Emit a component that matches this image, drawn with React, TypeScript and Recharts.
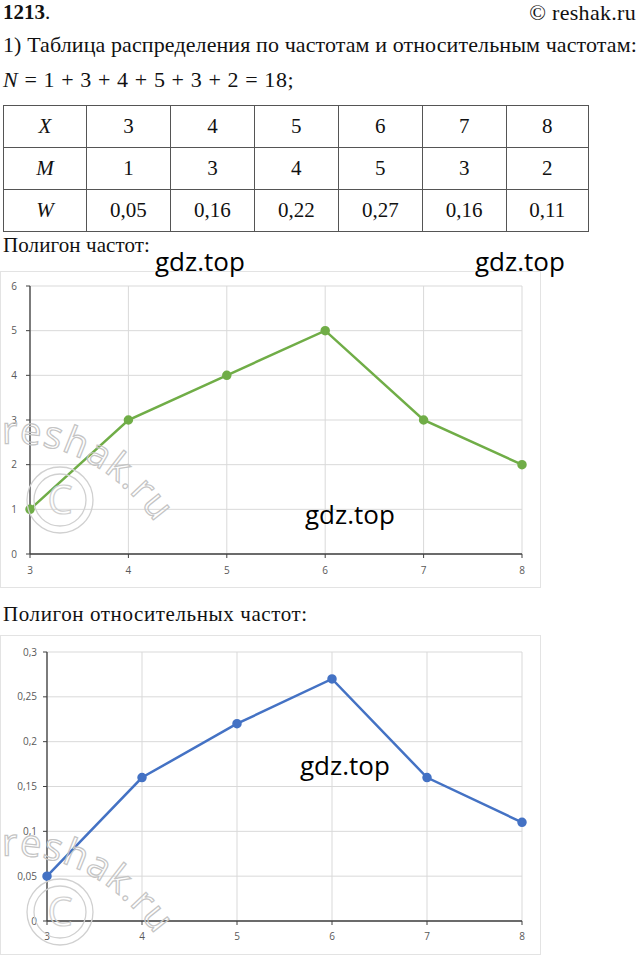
import React from 'react';
import { LineChart, Line, XAxis, YAxis, CartesianGrid } from 'recharts';

const xValues = [3, 4, 5, 6, 7, 8];
const freqM = [1, 3, 4, 5, 3, 2];
const relW = [0.05, 0.16, 0.22, 0.27, 0.16, 0.11];
const relWLabels = ['0,05', '0,16', '0,22', '0,27', '0,16', '0,11'];
const freqTicks = [0, 1, 2, 3, 4, 5, 6];
const relTicks = [0, 0.05, 0.1, 0.15, 0.2, 0.25, 0.3];

const freqData = xValues.map((x, i) => ({ x, m: freqM[i] }));
const relData = xValues.map((x, i) => ({ x, w: relW[i] }));

const serif = '"Liberation Serif", serif';
const sans = '"Open Sans", "Noto Sans", sans-serif';

const fmtRel = (v: number) => String(+v.toFixed(2)).replace('.', ',');

const Watermark = ({ left, top, id, h }: { left: number; top: number; id: string; h: number }) => (
  <svg style={{ position: 'absolute', left, top, pointerEvents: 'none' }} width={190} height={h}>
    <defs>
      <path id={id} d="M 0 44 Q 100 38 165 140" />
    </defs>
    <circle cx={58} cy={100} r={33} fill="none" stroke="#d0d0d0" strokeWidth={1.3} />
    <circle cx={58} cy={100} r={26} fill="none" stroke="#d0d0d0" strokeWidth={1.3} />
    <text x={58} y={114} textAnchor="middle" fontFamily={sans} fontSize={40} fill="none" stroke="#d0d0d0" strokeWidth={1.2}>C</text>
    <text fontFamily={sans} fontSize={38} letterSpacing={1.5} fill="none" stroke="#c4c4c4" strokeWidth={1.2}>
      <textPath href={`#${id}`}>reshak.ru</textPath>
    </text>
  </svg>
);

const Gdz = ({ left, top }: { left: number; top: number }) => (
  <div style={{ position: 'absolute', left, top, fontFamily: sans, fontSize: 26, lineHeight: '30px', color: '#000' }}>gdz.top</div>
);

const cell: React.CSSProperties = {
  border: '1px solid #555',
  textAlign: 'center',
  padding: 0,
  height: 41,
  fontFamily: serif,
  fontSize: 21,
};

export default function App() {
  return (
    <div style={{ position: 'absolute', left: 0, top: 0, width: 638, height: 956, background: '#fff', overflow: 'hidden', fontFamily: serif, color: '#111' }}>
      <div style={{ position: 'absolute', left: 3, top: 0, fontSize: 21, lineHeight: '25px', fontWeight: 'bold' }}>1213<span style={{ fontWeight: 'normal' }}>.</span></div>
      <div style={{ position: 'absolute', right: 2, top: 0, fontSize: 22, lineHeight: '26px', letterSpacing: 0.3 }}>© reshak.ru</div>
      <div style={{ position: 'absolute', left: 3, top: 34, fontSize: 22, lineHeight: '22px', letterSpacing: 0.1, whiteSpace: 'nowrap' }}>1) Таблица распределения по частотам и относительным частотам:</div>
      <div style={{ position: 'absolute', left: 3, top: 69, fontSize: 22, lineHeight: '22px', letterSpacing: 0.6, whiteSpace: 'nowrap' }}>
        <i>N</i> = 1 + 3 + 4 + 5 + 3 + 2 = 18;
      </div>
      <table style={{ position: 'absolute', left: 3, top: 105, borderCollapse: 'collapse', width: 586 }}>
        <tbody>
          <tr>
            <td style={{ ...cell, width: 82 }}><i>X</i></td>
            {xValues.map((v) => <td key={v} style={cell}>{v}</td>)}
          </tr>
          <tr>
            <td style={cell}><i>M</i></td>
            {freqM.map((v, i) => <td key={i} style={cell}>{v}</td>)}
          </tr>
          <tr>
            <td style={cell}><i>W</i></td>
            {relWLabels.map((v, i) => <td key={i} style={cell}>{v}</td>)}
          </tr>
        </tbody>
      </table>
      <div style={{ position: 'absolute', left: 3, top: 235, fontSize: 21, lineHeight: '21px', letterSpacing: 0.1 }}>Полигон частот:</div>

      <div style={{ position: 'absolute', left: 0, top: 271, width: 541, height: 317, border: '1px solid #e3e3e3', boxSizing: 'border-box' }} />
      <div style={{ position: 'absolute', left: 0, top: 270 }}>
        <LineChart width={542} height={318} data={freqData} margin={{ top: 16, right: 20, left: 0, bottom: 8 }}>
          <CartesianGrid stroke="#d9d9d9" strokeWidth={1} />
          <XAxis dataKey="x" type="number" domain={[3, 8]} ticks={xValues} stroke="#404040" tickSize={4} tickMargin={9} height={26}
            tick={{ fill: '#595959', fontSize: 10, fontFamily: sans }} axisLine={{ stroke: '#404040', strokeWidth: 1.3 }} />
          <YAxis type="number" domain={[0, 6]} ticks={freqTicks} width={30} stroke="#404040" tickSize={4} tickMargin={9}
            tick={{ fill: '#595959', fontSize: 10, fontFamily: sans }} axisLine={{ stroke: '#404040', strokeWidth: 1.3 }} />
          <Line dataKey="m" stroke="#70AD47" strokeWidth={2.5} dot={{ r: 3.5, fill: '#70AD47', stroke: '#70AD47' }} isAnimationActive={false} />
        </LineChart>
      </div>
      <Watermark left={2} top={400} id="wm1" h={150} />
      <Gdz left={155} top={246} />
      <Gdz left={475} top={246} />
      <Gdz left={305} top={499} />

      <div style={{ position: 'absolute', left: 3, top: 604, fontSize: 21, lineHeight: '21px', letterSpacing: 0.6 }}>Полигон относительных частот:</div>

      <div style={{ position: 'absolute', left: 0, top: 635, width: 541, height: 320, border: '1px solid #e3e3e3', boxSizing: 'border-box' }} />
      <div style={{ position: 'absolute', left: 0, top: 635 }}>
        <LineChart width={542} height={320} data={relData} margin={{ top: 17, right: 20, left: 0, bottom: 8 }}>
          <CartesianGrid stroke="#d9d9d9" strokeWidth={1} />
          <XAxis dataKey="x" type="number" domain={[3, 8]} ticks={xValues} stroke="#404040" tickSize={4} tickMargin={8} height={26}
            tick={{ fill: '#595959', fontSize: 10, fontFamily: sans }} axisLine={{ stroke: '#404040', strokeWidth: 1.3 }} />
          <YAxis type="number" domain={[0, 0.3]} ticks={relTicks} width={47} stroke="#404040" tickSize={4} tickMargin={6}
            tickFormatter={fmtRel} tick={{ fill: '#595959', fontSize: 10, fontFamily: sans }} axisLine={{ stroke: '#404040', strokeWidth: 1.3 }} />
          <Line dataKey="w" stroke="#4472C4" strokeWidth={2.5} dot={{ r: 3.5, fill: '#4472C4', stroke: '#4472C4' }} isAnimationActive={false} />
        </LineChart>
      </div>
      <Watermark left={2} top={812} id="wm2" h={143} />
      <Gdz left={300} top={750} />
    </div>
  );
}
